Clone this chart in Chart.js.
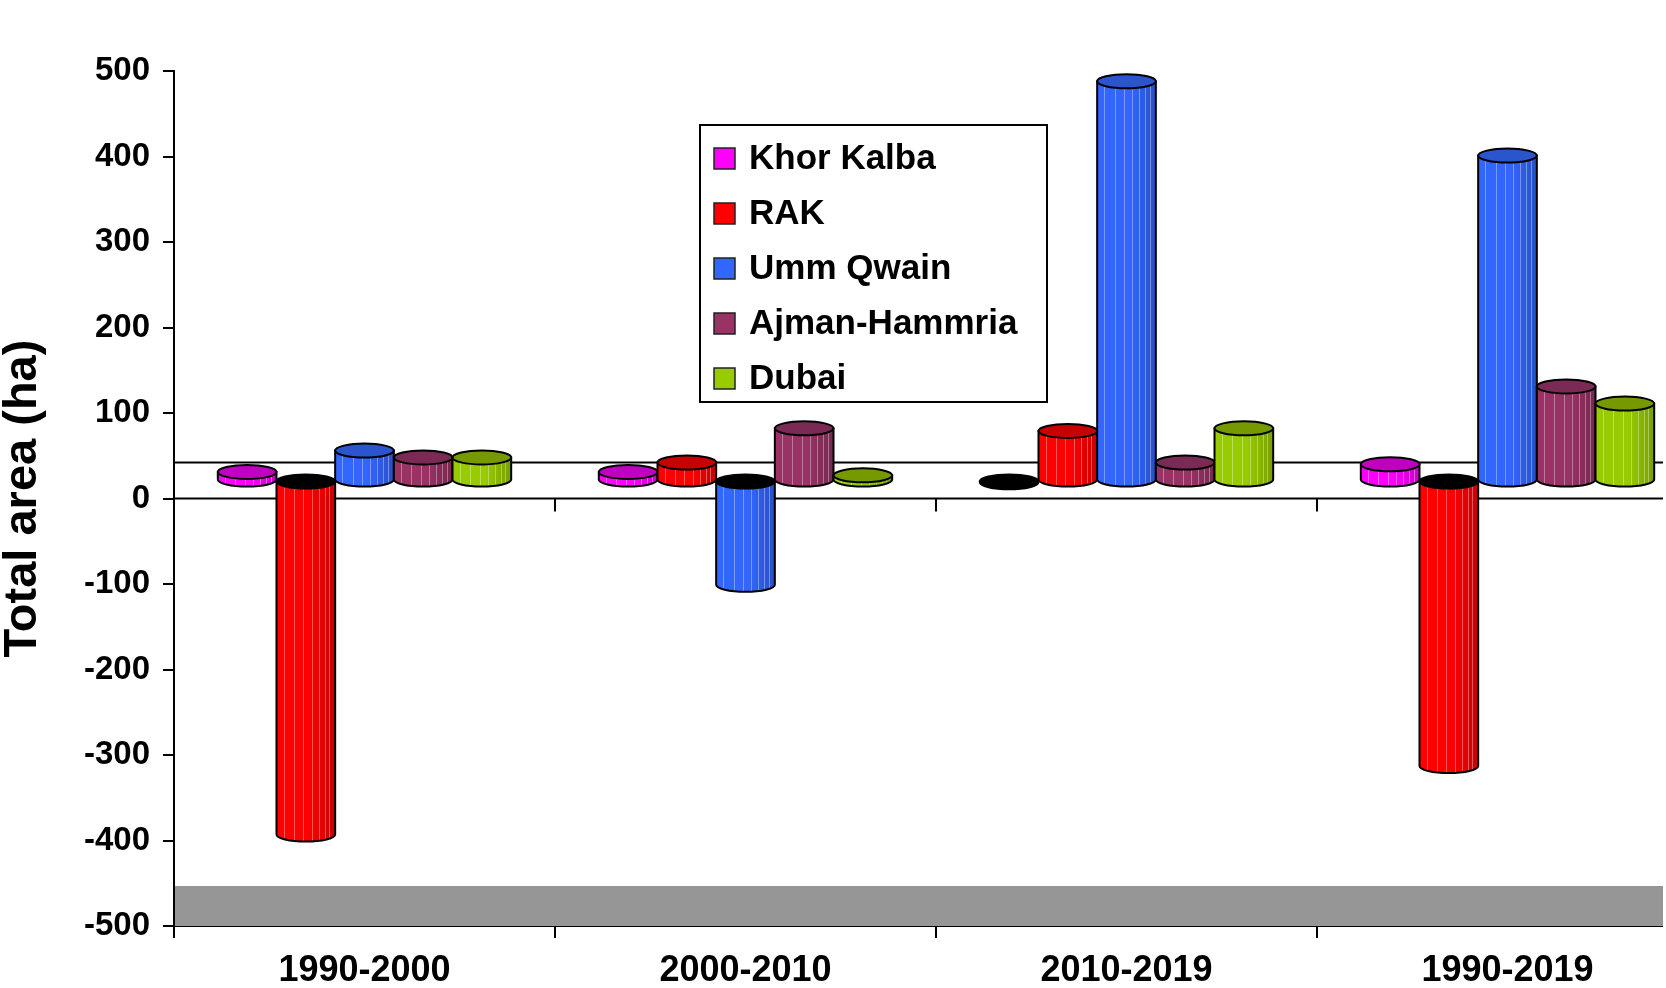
<!DOCTYPE html>
<html>
<head>
<meta charset="utf-8">
<title>Total area (ha)</title>
<script src="https://cdn.jsdelivr.net/npm/chart.js@4.4.1/dist/chart.umd.min.js"></script>
<style>
  html, body { margin: 0; padding: 0; background: #fff; overflow: hidden; }
  #wrap { width: 1663px; height: 988px; overflow: hidden; position: relative; background: #fff; }
  #box { width: 1710px; height: 988px; }
</style>
</head>
<body>
<div id="wrap"><div id="box"><canvas id="areaChart"></canvas></div></div>
<script>
// data (ha)
var periods = ["1990-2000", "2000-2010", "2010-2019", "1990-2019"];
var sites = ["Khor Kalba", "RAK", "Umm Qwain", "Ajman-Hammria", "Dubai"];
var khorKalba = [10, 10, -2, 19];
var rak = [-414, 21, 58, -334];
var ummQwain = [35, -122, 467, 380];
var ajmanHammria = [27, 61, 21, 110];
var dubai = [27, 6, 61, 90];
var yMin = -500;
var yMax = 500;
var yStep = 100;

// styles
var sideColors = ["#ff00ff", "#ff0000", "#3366ff", "#993366", "#99cc00"];
var capColors = ["#c000c0", "#c80000", "#2b55cc", "#7a2a55", "#779900"];
var fontFamily = "'Liberation Sans', Arial, sans-serif";
var depth = 36;          // 3d floor depth, px
var lift = depth / 2;    // bars stand in the middle of the floor

Chart.defaults.font.family = fontFamily;
Chart.defaults.color = "#000";

function shade(hex, f) {
    var n = parseInt(hex.slice(1), 16);
    var r = Math.round(((n >> 16) & 255) * f);
    var g = Math.round(((n >> 8) & 255) * f);
    var b = Math.round((n & 255) * f);
    return "rgb(" + r + "," + g + "," + b + ")";
}

function bodyPath(ctx, x, left, right, top, bottom, half, ry) {
    ctx.beginPath();
    ctx.moveTo(left, top);
    ctx.lineTo(left, bottom);
    ctx.ellipse(x, bottom, half, ry, 0, Math.PI, 0, true);
    ctx.lineTo(right, top);
    ctx.closePath();
}

function drawCylinder(ctx, bar, side, cap) {
    var p = bar.getProps(["x", "y", "base", "width"], true);
    var half = p.width / 2, ry = 7;
    var left = p.x - half, right = p.x + half;
    var top = Math.min(p.y, p.base), bottom = Math.max(p.y, p.base);
    var negative = p.y > p.base;

    var grad = ctx.createLinearGradient(left, 0, right, 0);
    grad.addColorStop(0, side);
    grad.addColorStop(0.55, side);
    grad.addColorStop(1, shade(side, 0.78));

    bodyPath(ctx, p.x, left, right, top, bottom, half, ry);
    ctx.fillStyle = negative && bottom - top < 3 ? "#000" : grad;
    ctx.fill();

    // facet stripes
    ctx.save();
    ctx.clip();
    ctx.strokeStyle = "rgba(255,255,255,0.35)";
    ctx.lineWidth = 1;
    ctx.beginPath();
    [0.12, 0.3, 0.46, 0.6, 0.72, 0.82, 0.9].forEach(function(f) {
        var sx = Math.round(left + f * p.width) + 0.5;
        ctx.moveTo(sx, top);
        ctx.lineTo(sx, bottom + ry);
    });
    ctx.stroke();
    ctx.restore();

    bodyPath(ctx, p.x, left, right, top, bottom, half, ry);
    ctx.strokeStyle = "#000";
    ctx.lineWidth = 2;
    ctx.stroke();

    ctx.beginPath();
    ctx.ellipse(p.x, top, half, ry, 0, 0, 2 * Math.PI);
    ctx.fillStyle = negative ? "#000" : cap;
    ctx.fill();
    ctx.stroke();
}

var cylinderPlugin = {
    id: "cylinders",
    beforeDatasetsDraw: function(chart) {
        var ctx = chart.ctx, a = chart.chartArea;
        var ys = chart.scales.y, xs = chart.scales.x;
        var floorY = ys.getPixelForValue(yMin);
        var zeroY = ys.getPixelForValue(0);

        ctx.save();
        // grey floor
        ctx.fillStyle = "#969696";
        ctx.fillRect(a.left + 1, floorY - 40, a.right - a.left, 40);
        // zero level, back and front
        ctx.strokeStyle = "#000";
        ctx.lineWidth = 2;
        ctx.beginPath();
        ctx.moveTo(a.left, zeroY - depth);
        ctx.lineTo(a.right, zeroY - depth);
        ctx.moveTo(a.left, zeroY);
        ctx.lineTo(a.right, zeroY);
        for (var i = 1; i < periods.length; i++) {
            var bx = (xs.getPixelForValue(i - 1) + xs.getPixelForValue(i)) / 2;
            ctx.moveTo(bx, zeroY);
            ctx.lineTo(bx, zeroY + 13);
        }
        ctx.stroke();
        ctx.restore();

        ctx.save();
        ctx.translate(0, -lift);
    },
    afterDatasetsDraw: function(chart) {
        var ctx = chart.ctx;
        for (var j = 0; j < periods.length; j++) {
            for (var i = 0; i < chart.data.datasets.length; i++) {
                var bar = chart.getDatasetMeta(i).data[j];
                if (bar) drawCylinder(ctx, bar, sideColors[i], capColors[i]);
            }
        }
        ctx.restore();
    },
    afterDraw: function(chart) {
        // boxed legend
        var ctx = chart.ctx;
        ctx.save();
        ctx.fillStyle = "#fff";
        ctx.fillRect(700, 125, 347, 277);
        ctx.strokeStyle = "#000";
        ctx.lineWidth = 2;
        ctx.strokeRect(700, 125, 347, 277);
        ctx.font = "bold 35px " + fontFamily;
        ctx.textBaseline = "middle";
        chart.data.datasets.forEach(function(ds, i) {
            var cy = 158 + i * 55;
            ctx.fillStyle = sideColors[i];
            ctx.fillRect(714, cy - 10, 21, 21);
            ctx.lineWidth = 1.5;
            ctx.strokeStyle = "#222";
            ctx.strokeRect(714, cy - 10, 21, 21);
            ctx.fillStyle = "#000";
            ctx.fillText(ds.label, 749, cy + 1);
        });
        ctx.restore();
    }
};

var seriesValues = [khorKalba, rak, ummQwain, ajmanHammria, dubai];

var areaChart = new Chart(document.getElementById("areaChart"), {
    type: "bar",
    data: {
        labels: periods,
        datasets: sites.map(function(name, i) {
            return {
                label: name,
                data: seriesValues[i],
                backgroundColor: sideColors[i],
                borderWidth: 0,
                categoryPercentage: 0.77,
                barPercentage: 1.0
            };
        })
    },
    options: {
        responsive: true,
        maintainAspectRatio: false,
        animation: false,
        devicePixelRatio: 1,
        layout: { padding: { top: 71, right: 12, left: 0, bottom: 0 } },
        plugins: {
            legend: { display: false },
            tooltip: { enabled: false }
        },
        scales: {
            x: {
                ticks: { color: "#000", font: { size: 36, weight: "bold" }, padding: 11, maxRotation: 0 },
                grid: { drawOnChartArea: false, tickLength: 12, color: "#000", lineWidth: 2, offset: true },
                border: { color: "#000", width: 2 },
                afterFit: function(s) { s.height = 62; }
            },
            y: {
                min: yMin,
                max: yMax,
                ticks: { stepSize: yStep, color: "#000", font: { size: 33, weight: "bold" }, padding: 13 },
                grid: { drawOnChartArea: false, tickLength: 11, color: "#000", lineWidth: 2 },
                border: { color: "#000", width: 2 },
                title: {
                    display: true,
                    text: "Total area (ha)",
                    color: "#000",
                    font: { size: 47, weight: "bold", lineHeight: 1 },
                    padding: 0
                },
                afterFit: function(s) { s.width = 174; }
            }
        }
    },
    plugins: [cylinderPlugin]
});
</script>
</body>
</html>
